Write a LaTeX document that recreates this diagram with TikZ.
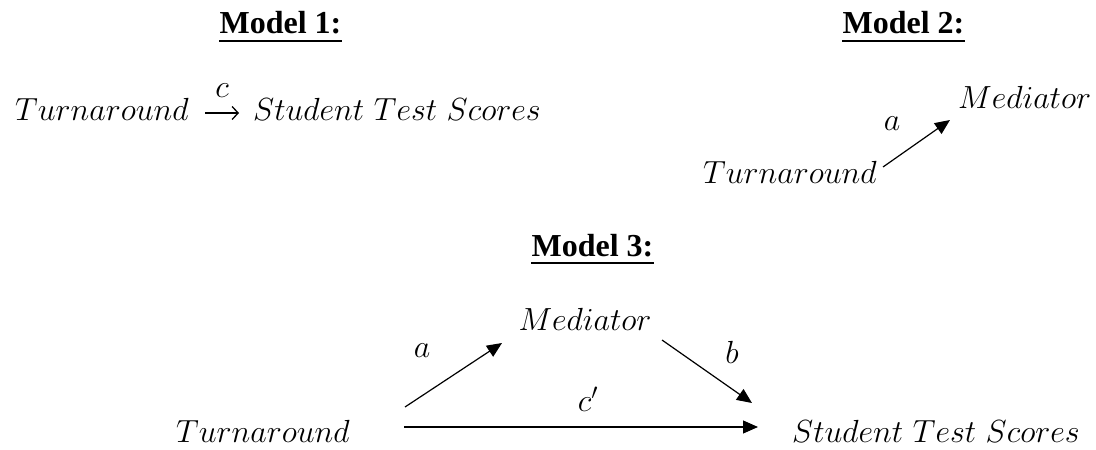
\RequirePackage{fix-cm}
\documentclass[tikz,border=0pt]{standalone}
\usepackage{fontspec}
\newfontfamily\titlefont{Liberation Serif}
\usetikzlibrary{arrows.meta}
\begin{document}
\begin{tikzpicture}[x=1pt,y=-1pt,
  lbl/.style={inner sep=0pt, font=\fontsize{32}{38}\selectfont},
  ttl/.style={inner sep=0pt, font=\titlefont\bfseries\fontsize{32}{38}\selectfont},
  uline/.style={line width=2.5pt},
  arr/.style={line width=1.2pt, -{Triangle[length=15pt,width=13pt]}},
  eqarr/.style={line width=1.3pt, -{Straight Barb[length=6pt,width=13pt]}},
]
\useasboundingbox (0,0) rectangle (1096,450);

% Model 1
\node[ttl, anchor=base] (m1t) at (280.5,33) {Model 1:};
\draw[uline] ([yshift=-8pt]m1t.base west) -- ([yshift=-8pt]m1t.base east);
\node[lbl, anchor=base east] (t1) at (189,120) {$Turnaround$};
\node[lbl, anchor=base west] (s1) at (253,120) {$Student\ Test\ Scores$};
\draw[eqarr] ([shift={(16,-7)}]t1.base east) -- ([shift={(-14,-7)}]s1.base west)
  node[lbl, midway, anchor=base, yshift=16pt] (lc) {$c$};

% Model 2
\node[ttl, anchor=base] (m2t) at (903.5,33) {Model 2:};
\draw[uline] ([yshift=-8pt]m2t.base west) -- ([yshift=-8pt]m2t.base east);
\node[lbl, anchor=base west] (med2) at (958,108) {$Mediator$};
\node[lbl, anchor=base east] (t2) at (877,183) {$Turnaround$};
\draw[arr] ([shift={(6,-16)}]t2.base east) -- ([shift={(-8,12)}]med2.base west)
  node[lbl, midway, anchor=base, xshift=-24.5pt, yshift=13.5pt] (la2) {$a$};

% Model 3
\node[ttl, anchor=base] (m3t) at (592.5,256) {Model 3:};
\draw[uline] ([yshift=-7pt]m3t.base west) -- ([yshift=-7pt]m3t.base east);
\node[lbl, anchor=base] (med3) at (585,330) {$Mediator$};
\node[lbl, anchor=base east] (t3) at (350,442) {$Turnaround$};
\node[lbl, anchor=base west] (s3) at (792,442) {$Student\ Test\ Scores$};
\draw[arr] ([shift={(55,-35)}]t3.base east) -- ([shift={(-83,13)}]med3.base)
  node[lbl, midway, anchor=base, xshift=-31.5pt, yshift=18pt] (la3) {$a$};
\draw[arr] ([shift={(77,10)}]med3.base) -- ([shift={(-40,-39)}]s3.base west)
  node[lbl, midway, anchor=base, xshift=25pt, yshift=8.5pt] (lb3) {$b$};
\draw[arr] ([shift={(54,-15)}]t3.base east) -- ([shift={(-34,-15)}]s3.base west)
  node[lbl, midway, anchor=base, xshift=7pt, yshift=16pt] (lc3) {$c'$};
\end{tikzpicture}
\end{document}
